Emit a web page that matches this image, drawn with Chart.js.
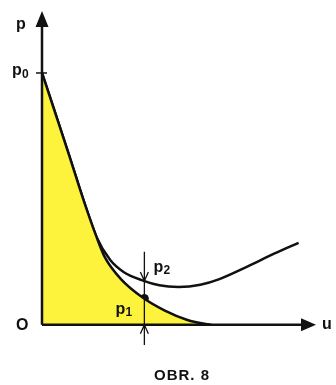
<!DOCTYPE html>
<html>
<head>
<meta charset="utf-8">
<script src="https://cdn.jsdelivr.net/npm/chart.js@4/dist/chart.umd.min.js"></script>
<style>
  html, body { margin: 0; padding: 0; background: #fff; }
  #wrap { width: 336px; height: 385px; }
</style>
</head>
<body>
<div id="wrap"><canvas id="obr8" width="336" height="385"></canvas></div>
<script>
'use strict';
// curve p1 (filled) and curve p2
var uCurve1 = [0, 0.5, 1.0, 1.5, 2.0, 2.3, 2.9, 3.7, 4.5, 5.3, 6.0, 6.2];
var pCurve1 = [8.05, 6.73, 5.40, 4.04, 2.80, 2.16, 1.45, 0.86, 0.45, 0.16, 0.02, 0];
var uCurve2 = [0, 0.5, 1.0, 1.5, 2.0, 2.5, 3.0, 3.7, 4.3, 5.0, 5.8, 6.5, 7.5, 8.5, 9.4];
var pCurve2 = [8.05, 6.73, 5.40, 4.04, 2.80, 2.07, 1.68, 1.41, 1.26, 1.21, 1.28, 1.46, 1.85, 2.27, 2.62];
var uMark = [3.75];
var pMark = [0.84];
var p2Value = 1.40;
var p0Value = 8.05;
var arrowTop = 2.33;
var arrowBottom = -0.65;
var caption = 'OBR. 8';

function pts(xs, ys) {
  return xs.map(function(x, i) { return { x: x, y: ys[i] }; });
}

var bold = 'bold 16px "Liberation Sans", Arial, sans-serif';

var diagram = {
  id: 'diagram',
  afterDatasetsDraw: function(chart) {
    var c = chart.ctx, xs = chart.scales.x, ys = chart.scales.y;
    var x0 = xs.getPixelForValue(0), y0 = ys.getPixelForValue(0);
    var xEnd = xs.getPixelForValue(10), yEnd = ys.getPixelForValue(10);
    c.save();
    c.strokeStyle = '#111';
    c.fillStyle = '#111';
    c.lineWidth = 2.5;
    // axes
    c.beginPath();
    c.moveTo(x0, y0); c.lineTo(xEnd - 10, y0);
    c.moveTo(x0, y0); c.lineTo(x0, yEnd + 10);
    c.stroke();
    c.beginPath();
    c.moveTo(xEnd + 1, y0); c.lineTo(xEnd - 14, y0 - 6.5); c.lineTo(xEnd - 14, y0 + 6.5);
    c.closePath(); c.fill();
    c.beginPath();
    c.moveTo(x0, yEnd - 1); c.lineTo(x0 - 6.5, yEnd + 15); c.lineTo(x0 + 6.5, yEnd + 15);
    c.closePath(); c.fill();
    // p0 tick
    var yp0 = ys.getPixelForValue(p0Value);
    c.lineWidth = 1.5;
    c.beginPath(); c.moveTo(x0 - 6, yp0); c.lineTo(x0 + 5, yp0); c.stroke();
    // measuring line with arrows
    var xm = xs.getPixelForValue(uMark[0]);
    var yTop = ys.getPixelForValue(arrowTop), yBot = ys.getPixelForValue(arrowBottom);
    var yP2 = ys.getPixelForValue(p2Value);
    c.lineWidth = 1.3;
    c.beginPath();
    c.moveTo(xm, yTop); c.lineTo(xm, yBot);
    c.moveTo(xm - 4, yP2 - 9); c.lineTo(xm, yP2); c.lineTo(xm + 4, yP2 - 9);
    c.moveTo(xm - 4, y0 + 9); c.lineTo(xm, y0); c.lineTo(xm + 4, y0 + 9);
    c.stroke();
    // labels
    c.font = bold;
    c.textBaseline = 'middle';
    c.textAlign = 'left';
    c.fillText('p', x0 - 26, yEnd + 13);
    c.fillText('p', x0 - 30, yp0 - 2);
    c.fillText('O', x0 - 26, y0 + 1);
    c.fillText('u', xEnd + 7, y0);
    c.fillText('p', xm + 9, yP2 - 13);
    c.fillText('p', xm - 29, ys.getPixelForValue(pMark[0]) + 11);
    c.font = 'bold 12px "Liberation Sans", Arial, sans-serif';
    c.fillText('0', x0 - 20, yp0 + 2);
    c.fillText('2', xm + 19, yP2 - 10);
    c.fillText('1', xm - 19, ys.getPixelForValue(pMark[0]) + 14);
    c.font = 'bold 15px "Liberation Sans", Arial, sans-serif';
    c.letterSpacing = '1px';
    c.textAlign = 'center';
    c.fillText(caption, 182, 376);
    c.restore();
  }
};

var ctx = document.getElementById('obr8').getContext('2d');
var chart = new Chart(ctx, {
  type: 'line',
  data: {
    datasets: [{
      data: pts(uCurve1, pCurve1),
      borderColor: '#111',
      borderWidth: 2.5,
      backgroundColor: '#fdf23c',
      fill: 'origin',
      pointRadius: 0,
      cubicInterpolationMode: 'monotone'
    }, {
      data: pts(uCurve2, pCurve2),
      borderColor: '#111',
      borderWidth: 2.5,
      fill: false,
      pointRadius: 0,
      cubicInterpolationMode: 'monotone'
    }, {
      data: pts(uMark, pMark),
      showLine: false,
      pointRadius: 4,
      pointBackgroundColor: '#111',
      pointBorderColor: '#111'
    }]
  },
  options: {
    responsive: false,
    animation: false,
    layout: { padding: { left: 42, right: 21, top: 12, bottom: 29 } },
    plugins: { legend: { display: false }, tooltip: { enabled: false }, title: { display: false } },
    scales: {
      x: { type: 'linear', min: 0, max: 10, display: false },
      y: { type: 'linear', min: -1, max: 10, display: false }
    }
  },
  plugins: [diagram]
});
</script>
</body>
</html>
